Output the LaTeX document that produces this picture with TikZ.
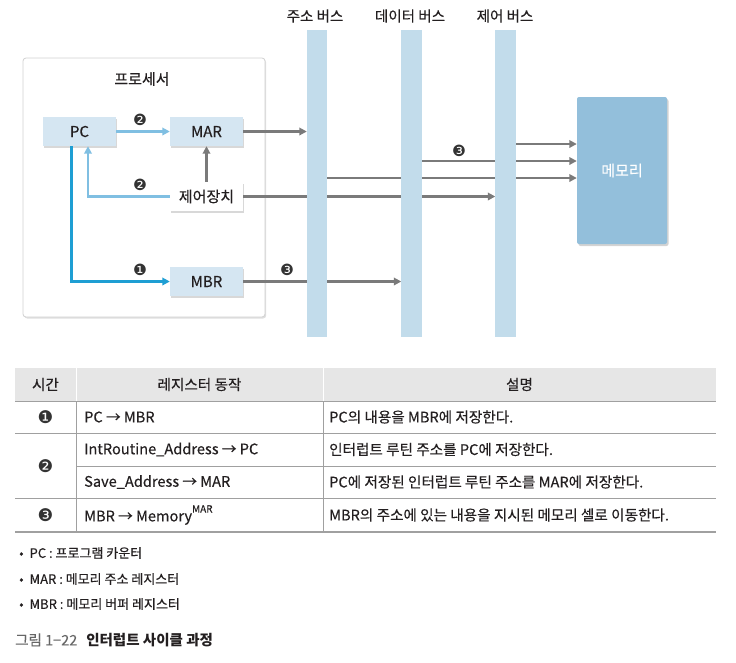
\documentclass[tikz,border=0pt]{standalone}
\usepackage{fontspec}
\setmainfont{Noto Sans CJK KR}[UprightFeatures={FakeBold=0.35}]
\newfontfamily\dingfont{DejaVu Sans}
\usetikzlibrary{arrows.meta,shadows}
\definecolor{regfill}{HTML}{D5E6F2}
\definecolor{busfill}{HTML}{C2DCEB}
\definecolor{memfill}{HTML}{93BFDB}
\definecolor{lblue}{HTML}{80BFE2}
\definecolor{dblue}{HTML}{1E9ED3}
\definecolor{linegray}{HTML}{7A7A7A}
\definecolor{numgray}{HTML}{333333}
\definecolor{headgray}{HTML}{E6E6E6}
\definecolor{tlinegray}{HTML}{A0A0A0}
\definecolor{txt}{HTML}{231F20}
\definecolor{capgray}{HTML}{666666}
\begin{document}
\begin{tikzpicture}[x=1pt,y=-1pt,
  every node/.style={text=txt},
  procbox/.style={draw=black!18, line width=0.8pt, fill=white, rounded corners=3pt,
    minimum width=242pt, minimum height=259pt, inner sep=0pt,
    drop shadow={shadow xshift=1.2pt, shadow yshift=-1.5pt, opacity=0.25}},
  reg/.style={fill=regfill, minimum width=73pt, minimum height=29pt, inner sep=0pt,
    font=\fontsize{15}{17}\selectfont,
    drop shadow={shadow xshift=1.2pt, shadow yshift=-1.5pt, opacity=0.3}},
  ctrlbox/.style={reg, fill=white},
  busbar/.style={minimum width=20pt, minimum height=307pt, inner sep=0pt},
  membox/.style={fill=memfill, rounded corners=2pt, minimum width=90pt, minimum height=147pt,
    inner sep=0pt, text=white, font=\fontsize{15}{17}\selectfont,
    drop shadow={shadow xshift=1.5pt, shadow yshift=-2pt, opacity=0.35}},
  buslabel/.style={font=\fontsize{14.5}{16}\selectfont, inner sep=0pt},
  garrow/.style={draw=linegray, line width=2.2pt, -{Triangle[length=7.5pt,width=7.5pt]}},
  lbarrow/.style={draw=lblue, line width=2.2pt, -{Triangle[length=7.5pt,width=7.5pt]}},
  dbarrow/.style={draw=dblue, line width=2.2pt, -{Triangle[length=7.5pt,width=7.5pt]}},
  num/.style={font=\dingfont\fontsize{15.5}{16}\selectfont, text=numgray, inner sep=0pt},
  tnum/.style={font=\dingfont\fontsize{17.5}{18}\selectfont, text=numgray, inner sep=0pt},
  ttext/.style={font=\fontsize{14.6}{17}\selectfont, inner sep=0pt, anchor=west},
  thead/.style={font=\fontsize{14.6}{17}\selectfont, inner sep=0pt},
  tline/.style={draw=tlinegray, line width=0.9pt},
  btext/.style={font=\fontsize{13}{15}\selectfont, inner sep=0pt, anchor=west},
]
\useasboundingbox (0,0) rectangle (736,662);

% processor
\node[procbox] (proc) at (144,187.5) {};
\node[font=\fontsize{15}{17}\selectfont, inner sep=0pt] (proclabel) at (142,79) {프로세서};

% bus placeholders
\node[busbar] (abus) at (317,183.5) {};
\node[busbar] (dbus) at (411.5,183.5) {};
\node[busbar] (cbus) at (505.5,183.5) {};
\node[buslabel] (abusl) at (315,16) {주소 버스};
\node[buslabel] (dbusl) at (410,16) {데이터 버스};
\node[buslabel] (cbusl) at (505,16) {제어 버스};

% memory
\node[membox] (mem) at (622,170.5) {메모리};

% registers
\node[reg] (pc) at (79.5,131.5) {PC};
\node[reg] (mar) at (206.5,131.5) {MAR};
\node[ctrlbox] (ctrl) at (206.5,196.5) {제어장치};
\node[reg] (mbr) at (206.5,281.5) {MBR};

% levels of memory-side lines
\coordinate (ym1) at (0,144);
\coordinate (ym2) at (0,161);
\coordinate (ym3) at (0,178);

% connectors
\draw[lbarrow] (pc.east) -- (mar.west);
\draw[garrow] (mar.east) -- (abus.west |- mar.east);
\draw[garrow] (ctrl.north) -- (mar.south);
\draw[lbarrow] (ctrl.west) -| ([xshift=8.5pt]pc.south);
\draw[dbarrow] ([xshift=-8pt]pc.south) |- (mbr.west);
\draw[garrow] (mbr.east) -- (dbus.west |- mbr.east);
\draw[garrow] (ctrl.east) -- (cbus.west |- ctrl.east);
\draw[garrow] (abus.east |- ym3) -- (mem.west |- ym3);
\draw[garrow] (dbus.east |- ym2) -- (mem.west |- ym2);
\draw[garrow] (cbus.east |- ym1) -- (mem.west |- ym1);

% bus bars on top of lines
\fill[busfill] (abus.north west) rectangle (abus.south east);
\fill[busfill] (dbus.north west) rectangle (dbus.south east);
\fill[busfill] (cbus.north west) rectangle (cbus.south east);

% step numbers
\node[num] (n2a) at (140,120) {❷};
\node[num] (n2b) at (140,185) {❷};
\node[num] (n1) at (140,270) {❶};
\node[num] (n3a) at (287,270) {❸};
\node[num] (n3b) at (459,151) {❸};

% table
\fill[headgray] (15,368) rectangle (716,401);
\draw[white, line width=1pt] (76,368) -- (76,401);
\draw[white, line width=1pt] (323,368) -- (323,401);
\draw[tline] (15,401) -- (716,401);
\draw[tline] (15,433) -- (716,433);
\draw[tline] (76,466) -- (716,466);
\draw[tline] (15,498) -- (716,498);
\draw[tline, line width=1.4pt] (15,532) -- (716,532);
\draw[tline] (76,401) -- (76,532);
\draw[tline] (323,401) -- (323,532);

\node[thead] (h1) at (45.5,384.5) {시간};
\node[thead] (h2) at (199.5,384.5) {레지스터 동작};
\node[thead] (h3) at (519.5,384.5) {설명};

\node[tnum] (t1) at (45.5,417) {❶};
\node[tnum] (t2) at (45.5,466) {❷};
\node[tnum] (t3) at (45.5,515) {❸};

\node[ttext] (r1a) at (84,417) {PC → MBR};
\node[ttext] (r2a) at (84,449.5) {IntRoutine\_Address → PC};
\node[ttext] (r2ba) at (84,482) {Save\_Address → MAR};
\node[ttext] (r3a) at (84,515) {MBR → Memory\raisebox{0.6em}{\fontsize{10}{10}\selectfont MAR}};

\node[ttext] (r1b) at (329,417) {PC의 내용을 MBR에 저장한다.};
\node[ttext] (r2b) at (329,449.5) {인터럽트 루틴 주소를 PC에 저장한다.};
\node[ttext] (r2bb) at (329,482) {PC에 저장된 인터럽트 루틴 주소를 MAR에 저장한다.};
\node[ttext] (r3b) at (329,515) {MBR의 주소에 있는 내용을 지시된 메모리 셀로 이동한다.};

% bullets
\node[btext] (b1) at (19,553) {•\hspace{6pt}PC : 프로그램 카운터};
\node[btext] (b2) at (19,579) {•\hspace{6pt}MAR : 메모리 주소 레지스터};
\node[btext] (b3) at (19,604) {•\hspace{6pt}MBR : 메모리 버퍼 레지스터};

% caption
\node[font=\fontsize{14.5}{16}\selectfont, inner sep=0pt, anchor=west] (cap) at (15,640)
  {\textcolor{capgray}{그림 1−22}\hspace{9pt}\textbf{인터럽트 사이클 과정}};
\end{tikzpicture}
\end{document}
